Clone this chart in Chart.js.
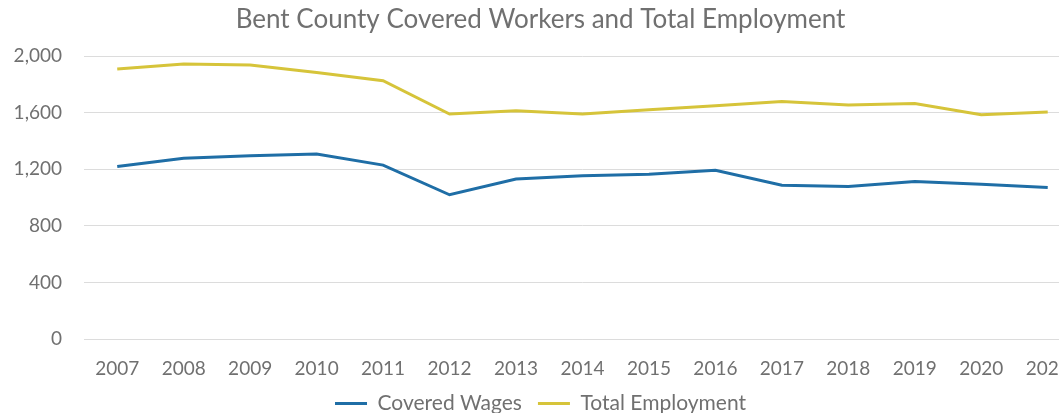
<!DOCTYPE html>
<html>
<head>
<meta charset="utf-8">
<title>Bent County Covered Workers and Total Employment</title>
<script src="https://cdn.jsdelivr.net/npm/chart.js@4"></script>
<style>
    html, body { margin: 0; padding: 0; background: #fff; overflow: hidden; }
    #frame { width: 1059px; height: 413px; overflow: hidden; }
    #wrap { position: relative; width: 1088px; height: 424px; }
</style>
</head>
<body>
<div id="frame"><div id="wrap"><canvas id="employmentChart"></canvas></div></div>
<script>
// Yearly figures for Bent County
const years = ['2007', '2008', '2009', '2010', '2011', '2012', '2013', '2014',
               '2015', '2016', '2017', '2018', '2019', '2020', '2021'];
const coveredWages = [1220, 1279, 1296, 1308, 1230, 1020, 1131, 1154,
                      1166, 1194, 1088, 1078, 1114, 1095, 1071];
const totalEmployment = [1909, 1945, 1938, 1885, 1827, 1591, 1614, 1591,
                         1621, 1650, 1680, 1655, 1666, 1586, 1605];
const yTicks = [0, 400, 800, 1200, 1600, 2000];

const FONT = 'Lato, "Open Sans", sans-serif';
const TEXT = '#707070';
const GRID = '#dcdcdc';

const ctx = document.getElementById('employmentChart');
new Chart(ctx, {
    type: 'line',
    data: {
        labels: years,
        datasets: [{
            label: 'Covered Wages',
            data: coveredWages,
            borderColor: '#1f6ea6',
            backgroundColor: '#1f6ea6',
            borderWidth: 3,
            pointRadius: 0,
            tension: 0
        }, {
            label: 'Total Employment',
            data: totalEmployment,
            borderColor: '#d6c43a',
            backgroundColor: '#d6c43a',
            borderWidth: 3,
            pointRadius: 0,
            tension: 0
        }]
    },
    options: {
        responsive: true,
        maintainAspectRatio: false,
        animation: false,
        layout: {
            padding: { left: 0, right: 7, top: 0, bottom: 0 }
        },
        plugins: {
            title: {
                display: true,
                text: 'Bent County Covered Workers and Total Employment',
                color: TEXT,
                font: { family: FONT, size: 26, weight: 'normal' },
                padding: { top: 4, bottom: 21 }
            },
            legend: {
                position: 'bottom',
                labels: {
                    color: TEXT,
                    font: { family: FONT, size: 21 },
                    boxWidth: 32,
                    boxHeight: 3,
                    padding: 16,
                    generateLabels: function(chart) {
                        return Chart.defaults.plugins.legend.labels.generateLabels(chart)
                            .map(l => ({ ...l, lineWidth: 0, fillStyle: l.strokeStyle }));
                    }
                }
            },
            tooltip: { enabled: false }
        },
        scales: {
            x: {
                offset: true,
                afterFit: function(axis) {
                    // keep the year row snug above the legend
                    axis.height = 38;
                },
                grid: { display: false, drawTicks: false },
                border: { display: true, color: GRID },
                ticks: {
                    color: TEXT,
                    font: { family: FONT, size: 19 },
                    padding: 18,
                    maxRotation: 0,
                    autoSkip: false
                }
            },
            y: {
                min: 0,
                max: 2000,
                afterBuildTicks: function(axis) {
                    axis.ticks = yTicks.map(v => ({ value: v }));
                },
                afterFit: function(axis) {
                    axis.width = 84;
                },
                grid: { color: GRID, drawTicks: false },
                border: { display: false },
                ticks: {
                    color: TEXT,
                    font: { family: FONT, size: 19 },
                    padding: 22,
                    callback: v => v.toLocaleString('en-US')
                }
            }
        }
    }
});
</script>
</body>
</html>
